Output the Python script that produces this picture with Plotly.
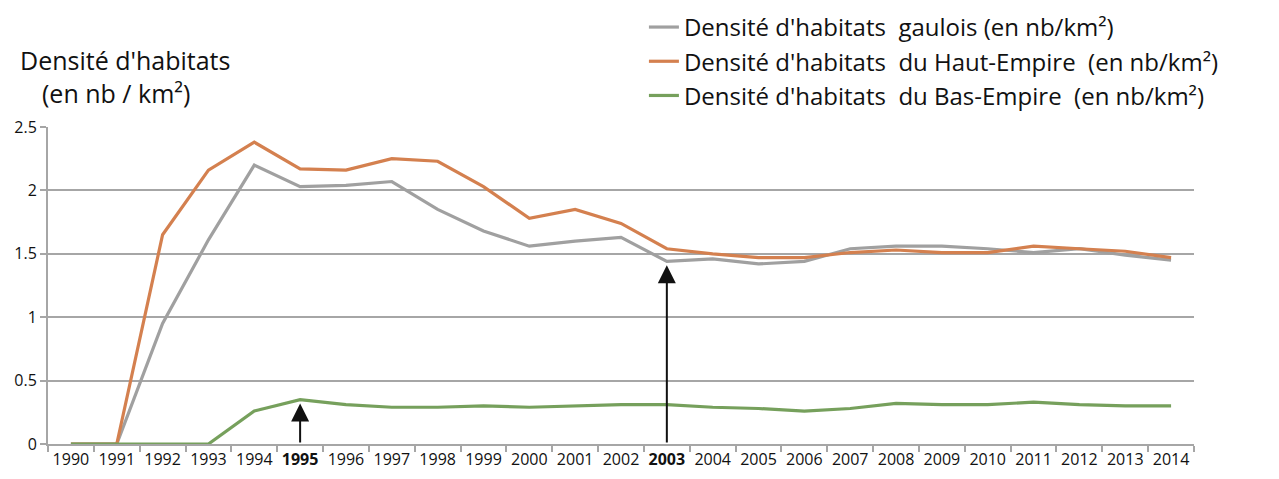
import plotly.graph_objects as go

# Data
years = [str(y) for y in range(1990, 2015)]
gaulois = [0, 0, 0.95, 1.61, 2.20, 2.03, 2.04, 2.07, 1.85, 1.68, 1.56, 1.60, 1.63,
           1.44, 1.46, 1.42, 1.44, 1.54, 1.56, 1.56, 1.54, 1.51, 1.54, 1.49, 1.45]
haut_empire = [0, 0, 1.65, 2.16, 2.38, 2.17, 2.16, 2.25, 2.23, 2.03, 1.78, 1.85, 1.74,
               1.54, 1.50, 1.47, 1.47, 1.51, 1.53, 1.51, 1.51, 1.56, 1.54, 1.52, 1.47]
bas_empire = [0, 0, 0, 0, 0.26, 0.35, 0.31, 0.29, 0.29, 0.30, 0.29, 0.30, 0.31,
              0.31, 0.29, 0.28, 0.26, 0.28, 0.32, 0.31, 0.31, 0.33, 0.31, 0.30, 0.30]
highlight_years = ['1995', '2003']
arrow_tips = {'1995': 0.32, '2003': 1.41}

tick_text = [f'<b>{y}</b>' if y in highlight_years else y for y in years]

FONT = 'Open Sans'
GRID = '#a6a6a6'

fig = go.Figure()
series = [
    ("Densité d'habitats  gaulois (en nb/km²)", gaulois, '#a0a0a0'),
    ("Densité d'habitats  du Haut-Empire  (en nb/km²)", haut_empire, '#d4804f'),
    ("Densité d'habitats  du Bas-Empire  (en nb/km²)", bas_empire, '#76a05c'),
]
for name, vals, color in series:
    fig.add_trace(go.Scatter(x=years, y=vals, mode='lines', name=name,
                             line=dict(color=color, width=3.2)))

# arrows from the x axis up to the curves (category index as x)
for y in highlight_years:
    i = years.index(y)
    fig.add_annotation(x=i, y=arrow_tips[y], ax=i, ay=0, xref='x', yref='y',
                       axref='x', ayref='y', text='', showarrow=True,
                       arrowhead=2, arrowsize=1.8, arrowwidth=2, arrowcolor='#111111')

# y axis title, two lines
fig.add_annotation(text="Densité d'habitats", xref='paper', yref='paper',
                   x=-0.026, y=1.212, xanchor='left', yanchor='middle', showarrow=False,
                   font=dict(family=FONT, size=25, color='#111111'))
fig.add_annotation(text="(en nb / km²)", xref='paper', yref='paper',
                   x=-0.007, y=1.108, xanchor='left', yanchor='middle', showarrow=False,
                   font=dict(family=FONT, size=25, color='#111111'))

fig.update_layout(
    width=1279, height=479,
    margin=dict(l=40, r=93, t=119, b=43, autoexpand=False),
    paper_bgcolor='white', plot_bgcolor='white',
    font=dict(family=FONT, color='#111111'),
    showlegend=True,
    legend=dict(x=0.52, y=1.385, xanchor='left', yanchor='top',
                font=dict(family=FONT, size=24, color='#111111'),
                bgcolor='rgba(0,0,0,0)', tracegroupgap=0, itemwidth=30),
    xaxis=dict(type='category', tickvals=years, ticktext=tick_text, tickangle=0,
               tickson='boundaries', ticks='outside', ticklen=6, tickcolor=GRID,
               tickwidth=2, showgrid=False, showline=True, linecolor=GRID, linewidth=2,
               tickfont=dict(family=FONT, size=16, color='#111111'), range=[-0.5, 24.5]),
    yaxis=dict(range=[0, 2.5], tickvals=[0, 0.5, 1, 1.5, 2, 2.5],
               ticktext=['0', '0.5', '1', '1.5', '2', '2.5'],
               showgrid=True, gridcolor=GRID, gridwidth=2, zeroline=False,
               showline=True, linecolor=GRID, linewidth=2, ticks='outside',
               ticklen=6, tickcolor=GRID, tickwidth=2,
               tickfont=dict(family=FONT, size=16, color='#111111')),
)

fig.write_html("out.html")
